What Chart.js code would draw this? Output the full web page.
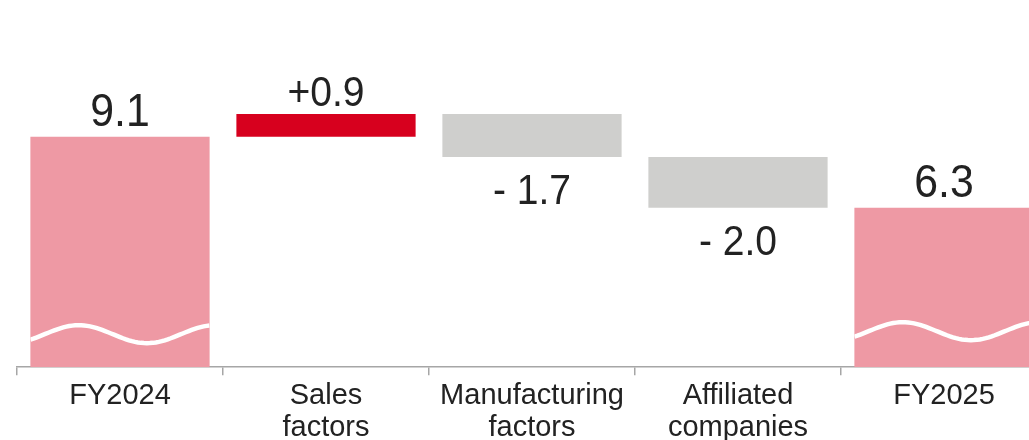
<!DOCTYPE html>
<html>
<head>
<meta charset="utf-8">
<script src="https://cdn.jsdelivr.net/npm/chart.js@4/dist/chart.umd.min.js"></script>
<style>
  html, body { margin: 0; padding: 0; background: #fff; }
  body { width: 1029px; height: 440px; overflow: hidden; }
  #wrap { position: relative; width: 1050px; height: 449px; }
</style>
</head>
<body>
<div id="wrap"><canvas id="chart"></canvas></div>
<script>
// bridge data
const categories = [['FY2024'], ['Sales', 'factors'], ['Manufacturing', 'factors'], ['Affiliated', 'companies'], ['FY2025']];
const startValue = 9.1;
const deltas = [0.9, -1.7, -2.0];
const endValue = 6.3;
const valueLabels = ['9.1', '+0.9', '- 1.7', '- 2.0', '6.3'];

const PINK = '#EE99A4';
const RED = '#D7001E';
const GREY = '#CFCFCD';
const FONT = '"Liberation Sans", Arial, sans-serif';

// floating ranges for each bar
const ranges = [[0, startValue]];
let running = startValue;
deltas.forEach(d => {
  ranges.push([running, running + d]);
  running += d;
});
ranges.push([0, endValue]);

const colors = [PINK].concat(deltas.map(d => d >= 0 ? RED : GREY), [PINK]);
const isTotal = i => i === 0 || i === ranges.length - 1;

// value text above rising/total bars, below falling bars
const valueLabelPlugin = {
  id: 'valueLabels',
  afterDatasetsDraw(chart) {
    const ctx = chart.ctx;
    const meta = chart.getDatasetMeta(0);
    meta.data.forEach((bar, i) => {
      const [lo, hi] = ranges[i];
      const top = Math.min(bar.y, bar.base);
      const bottom = Math.max(bar.y, bar.base);
      const y = hi >= lo ? top - (isTotal(i) ? 11 : 8) : bottom + 47;
      ctx.save();
      ctx.font = (isTotal(i) ? 46 : 42) + 'px ' + FONT;
      ctx.fillStyle = '#222222';
      ctx.textAlign = 'center';
      ctx.textBaseline = 'alphabetic';
      ctx.translate(bar.x, y);
      ctx.scale(0.93, 1);
      ctx.fillText(valueLabels[i], 0, 0);
      ctx.restore();
    });
  }
};

// wavy break line across the two total bars
const breakPlugin = {
  id: 'axisBreak',
  afterDatasetsDraw(chart) {
    const ctx = chart.ctx;
    const meta = chart.getDatasetMeta(0);
    const baseY = chart.scales.y.getPixelForValue(0);
    [0, meta.data.length - 1].forEach(i => {
      const bar = meta.data[i];
      const left = bar.x - bar.width / 2;
      const w = bar.width;
      ctx.save();
      ctx.beginPath();
      ctx.rect(left, 0, w, chart.height);
      ctx.clip();
      ctx.beginPath();
      for (let k = 0; k <= 60; k++) {
        const t = k / 60;
        const y = baseY - 33 + (i === 0 ? 0 : -3) - 9 * Math.sin(Math.PI / 2 + 2 * Math.PI * (t - 0.27) / 0.76);
        const x = left + t * w;
        if (k === 0) ctx.moveTo(x, y); else ctx.lineTo(x, y);
      }
      ctx.strokeStyle = '#ffffff';
      ctx.lineWidth = 4.5;
      ctx.stroke();
      ctx.restore();
    });
  }
};

new Chart(document.getElementById('chart'), {
  type: 'bar',
  data: {
    labels: categories,
    datasets: [{
      data: ranges,
      backgroundColor: colors,
      borderWidth: 0,
      barPercentage: 0.87,
      categoryPercentage: 1.0
    }]
  },
  options: {
    responsive: true,
    maintainAspectRatio: false,
    animation: false,
    layout: { padding: { left: 17, right: 3, top: 0, bottom: 0 } },
    scales: {
      y: {
        display: false,
        min: 0,
        max: 14.5
      },
      x: {
        grid: {
          display: true,
          drawOnChartArea: false,
          drawTicks: true,
          tickLength: 8,
          color: '#A6A6A6',
          lineWidth: 1.5
        },
        border: { display: true, color: '#A6A6A6', width: 1.5 },
        ticks: {
          color: '#222222',
          padding: 5,
          font: { family: FONT, size: 29, lineHeight: 1.1 }
        }
      }
    },
    plugins: {
      legend: { display: false },
      tooltip: { enabled: false }
    }
  },
  plugins: [valueLabelPlugin, breakPlugin]
});
</script>
</body>
</html>
